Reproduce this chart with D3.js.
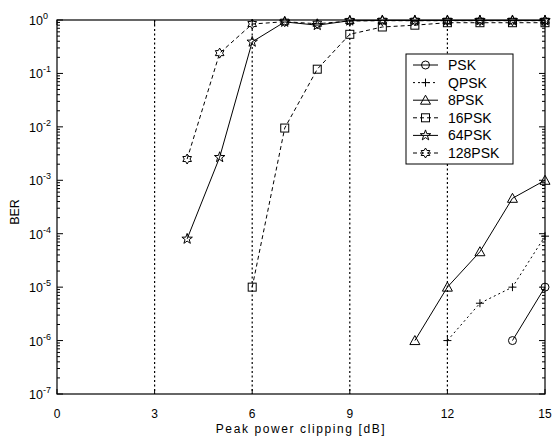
<!DOCTYPE html>
<html>
<head>
<meta charset="utf-8">
<script src="https://cdn.jsdelivr.net/npm/d3@7"></script>
<style>
  html, body { margin: 0; padding: 0; background: #fff; }
  svg { display: block; font-family: "Liberation Sans", Arial, sans-serif; }
</style>
</head>
<body>
<svg id="chart" width="554" height="439"></svg>
<script>
// BER versus peak power clipping for several PSK orders
const xTicks = [0, 3, 6, 9, 12, 15];
const gridX = [3, 6, 9, 12];
const yExponents = [0, -1, -2, -3, -4, -5, -6, -7];

const pskX = [14, 15];
const pskY = [1e-6, 1e-5];

const qpskX = [12, 13, 14, 15];
const qpskY = [1e-6, 5e-6, 1e-5, 9e-5];

const psk8X = [11, 12, 13, 14, 15];
const psk8Y = [1e-6, 1e-5, 4.6e-5, 4.6e-4, 1e-3];

const psk16X = [6, 7, 8, 9, 10, 11, 12, 13, 14, 15];
const psk16Y = [1e-5, 9.5e-3, 0.12, 0.54, 0.74, 0.8, 0.89, 0.89, 0.89, 0.89];

const psk64X = [4, 5, 6, 7, 8, 9, 10, 11, 12, 13, 14, 15];
const psk64Y = [8e-5, 2.7e-3, 0.39, 0.92, 0.8, 0.97, 0.98, 0.98, 0.98, 0.98, 0.98, 0.98];

const psk128X = [4, 5, 6, 7, 8, 9, 10, 11, 12, 13, 14, 15];
const psk128Y = [2.5e-3, 0.24, 0.84, 0.93, 0.85, 0.96, 0.97, 0.97, 0.97, 0.97, 0.97, 0.97];

const seriesNames = ["PSK", "QPSK", "8PSK", "16PSK", "64PSK", "128PSK"];

const series = [
  { name: seriesNames[0], xs: pskX, ys: pskY, dash: null, marker: "circle" },
  { name: seriesNames[1], xs: qpskX, ys: qpskY, dash: "2,3", marker: "plus" },
  { name: seriesNames[2], xs: psk8X, ys: psk8Y, dash: null, marker: "triangle" },
  { name: seriesNames[3], xs: psk16X, ys: psk16Y, dash: "4,3", marker: "square" },
  { name: seriesNames[4], xs: psk64X, ys: psk64Y, dash: null, marker: "pentagram" },
  { name: seriesNames[5], xs: psk128X, ys: psk128Y, dash: "4,3", marker: "hexagram" }
];

const svg = d3.select("#chart");
const plotLeft = 57, plotRight = 545, plotTop = 20, plotBottom = 394;

const x = d3.scaleLinear().domain([0, 15]).range([plotLeft, plotRight]);
const y = d3.scaleLog().domain([1e-7, 1]).range([plotBottom, plotTop]);

// vertical dotted grid
svg.append("g").selectAll("line").data(gridX).join("line")
  .attr("x1", d => x(d)).attr("x2", d => x(d))
  .attr("y1", plotTop).attr("y2", plotBottom)
  .attr("stroke", "#000").attr("stroke-width", 1.2)
  .attr("stroke-dasharray", "2,2.5");

// axes frame
svg.append("rect")
  .attr("x", plotLeft).attr("y", plotTop)
  .attr("width", plotRight - plotLeft).attr("height", plotBottom - plotTop)
  .attr("fill", "none").attr("stroke", "#000").attr("stroke-width", 1.2);

// x ticks (inward, bottom and top)
const tickG = svg.append("g").attr("stroke", "#000").attr("stroke-width", 1);
xTicks.forEach(t => {
  tickG.append("line").attr("x1", x(t)).attr("x2", x(t)).attr("y1", plotBottom).attr("y2", plotBottom - 5);
  tickG.append("line").attr("x1", x(t)).attr("x2", x(t)).attr("y1", plotTop).attr("y2", plotTop + 5);
});

// y log ticks (inward, left and right)
yExponents.forEach(e => {
  const v = Math.pow(10, e);
  tickG.append("line").attr("x1", plotLeft).attr("x2", plotLeft + 6).attr("y1", y(v)).attr("y2", y(v));
  tickG.append("line").attr("x1", plotRight).attr("x2", plotRight - 6).attr("y1", y(v)).attr("y2", y(v));
  if (e > -7) {
    for (let m = 2; m <= 9; m++) {
      const mv = m * Math.pow(10, e - 1);
      tickG.append("line").attr("x1", plotLeft).attr("x2", plotLeft + 3).attr("y1", y(mv)).attr("y2", y(mv));
      tickG.append("line").attr("x1", plotRight).attr("x2", plotRight - 3).attr("y1", y(mv)).attr("y2", y(mv));
    }
  }
});

// x tick labels
svg.append("g").selectAll("text").data(xTicks).join("text")
  .attr("x", d => x(d)).attr("y", 418)
  .attr("text-anchor", "middle")
  .attr("font-size", 12)
  .text(d => d);

// y tick labels as 10^n
const yl = svg.append("g").selectAll("text").data(yExponents).join("text")
  .attr("x", 29).attr("y", d => y(Math.pow(10, d)) + 5)
  .attr("font-size", 12.5);
yl.append("tspan").text("10");
yl.append("tspan").attr("dy", -6).attr("font-size", 9).text(d => d === 0 ? "0" : String(d));

// axis titles
svg.append("text")
  .attr("x", (plotLeft + plotRight) / 2).attr("y", 433)
  .attr("text-anchor", "middle").attr("font-size", 12)
  .attr("letter-spacing", 1.6)
  .text("Peak power clipping [dB]");

svg.append("text")
  .attr("transform", `translate(19,212) rotate(-90)`)
  .attr("text-anchor", "middle").attr("font-size", 12.5)
  .text("BER");

// marker shapes
function starPath(points, rOuter, rInner) {
  const pts = [];
  for (let i = 0; i < points * 2; i++) {
    const r = i % 2 === 0 ? rOuter : rInner;
    const a = -Math.PI / 2 + i * Math.PI / points;
    pts.push([r * Math.cos(a), r * Math.sin(a)]);
  }
  return "M" + pts.map(p => p[0].toFixed(2) + "," + p[1].toFixed(2)).join("L") + "Z";
}

function drawMarker(g, type, cx, cy) {
  const m = g.append("g").attr("transform", `translate(${cx},${cy})`)
    .attr("fill", "none").attr("stroke", "#000").attr("stroke-width", 1);
  if (type === "circle") {
    m.append("circle").attr("r", 4);
  } else if (type === "plus") {
    m.append("path").attr("d", "M-4,0H4M0,-4V4");
  } else if (type === "triangle") {
    m.append("path").attr("d", "M0,-5L5,4L-5,4Z");
  } else if (type === "square") {
    m.append("rect").attr("x", -4).attr("y", -4).attr("width", 8).attr("height", 8);
  } else if (type === "pentagram") {
    m.append("path").attr("d", starPath(5, 5.5, 2.2));
  } else if (type === "hexagram") {
    m.append("path").attr("d", starPath(6, 5, 2.9));
  }
}

const line = d3.line().x(d => x(d[0])).y(d => y(d[1]));

series.forEach(s => {
  const pts = s.xs.map((v, i) => [v, s.ys[i]]);
  const g = svg.append("g");
  g.append("path").datum(pts)
    .attr("d", line)
    .attr("fill", "none").attr("stroke", "#000").attr("stroke-width", 1)
    .attr("stroke-dasharray", s.dash);
  pts.forEach(p => drawMarker(g, s.marker, x(p[0]), y(p[1])));
});

// legend
const lg = svg.append("g");
lg.append("rect").attr("x", 406).attr("y", 54).attr("width", 107).attr("height", 110)
  .attr("fill", "#fff").attr("stroke", "#000").attr("stroke-width", 1);
series.forEach((s, i) => {
  const ly = 65 + i * 17.6;
  lg.append("line").attr("x1", 413).attr("x2", 438).attr("y1", ly).attr("y2", ly)
    .attr("stroke", "#000").attr("stroke-width", 1).attr("stroke-dasharray", s.dash);
  drawMarker(lg, s.marker, 425.5, ly);
  lg.append("text").attr("x", 448).attr("y", ly + 5)
    .attr("font-size", 14).text(s.name);
});
</script>
</body>
</html>
